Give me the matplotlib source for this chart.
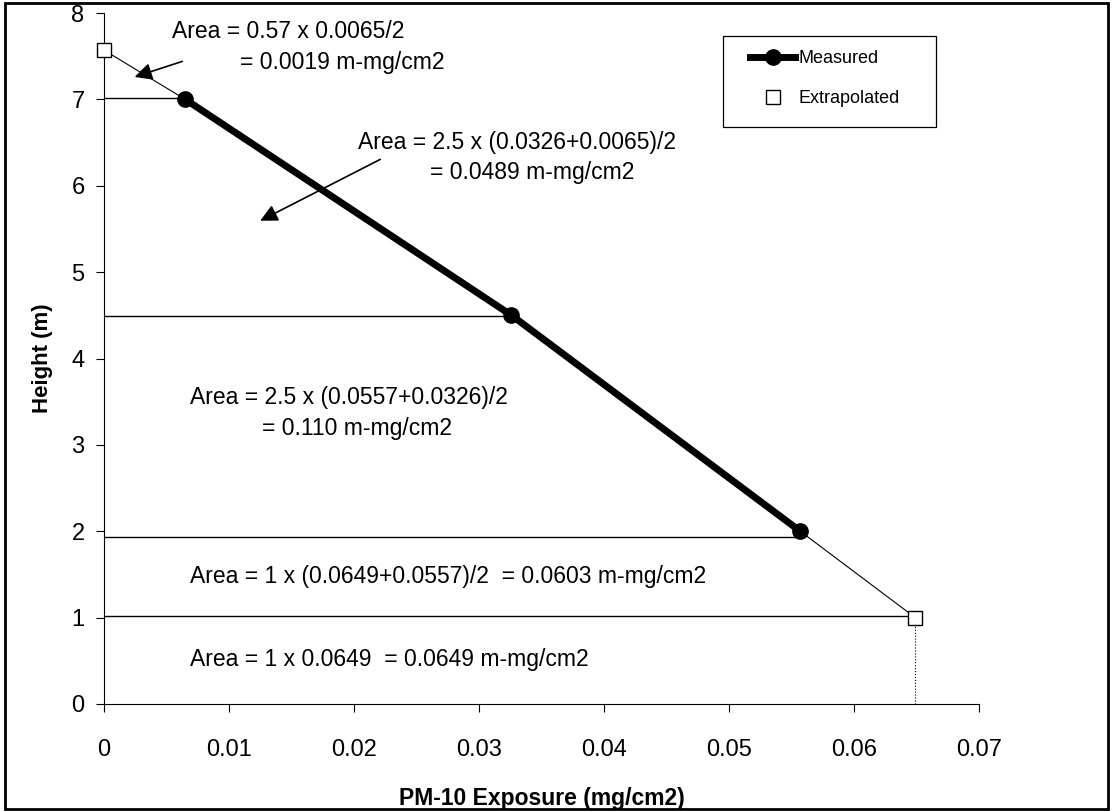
import matplotlib.pyplot as plt
from matplotlib.patches import Rectangle

plt.rcParams['font.family'] = ['Liberation Sans', 'DejaVu Sans']

# measured points
meas_x = [0.0065, 0.0326, 0.0557]
meas_y = [7.0, 4.5, 2.0]
# extrapolated points
extr_x = [0.0, 0.0649]
extr_y = [7.57, 1.0]
# horizontal slice boundaries (height, x-extent)
slice_y = [7.02, 4.49, 1.93, 1.02]
slice_x = [0.0065, 0.0326, 0.0557, 0.0649]

x_ticks = [0, 0.01, 0.02, 0.03, 0.04, 0.05, 0.06, 0.07]
x_labels = ["0", "0.01", "0.02", "0.03", "0.04", "0.05", "0.06", "0.07"]
y_ticks = [0, 1, 2, 3, 4, 5, 6, 7, 8]

W, H = 1118, 811
fig = plt.figure(figsize=(W / 100, H / 100), dpi=100)
ax = fig.add_axes([104 / W, 1 - 704 / H, 875 / W, 691 / H])

# slice lines
for yy, xx in zip(slice_y, slice_x):
    ax.plot([0, xx], [yy, yy], color='black', lw=1.0)
ax.plot([extr_x[1], extr_x[1]], [0, extr_y[1]], color='black', lw=0.8, ls=':')

# thin extrapolation segments
ax.plot([extr_x[0], meas_x[0]], [extr_y[0], meas_y[0]], color='black', lw=0.8)
ax.plot([meas_x[-1], extr_x[1]], [meas_y[-1], extr_y[1]], color='black', lw=0.8)

ax.plot(meas_x, meas_y, color='black', lw=5, marker='o', ms=11, label='Measured')
ax.plot(extr_x, extr_y, ls='none', marker='s', ms=9.5, mfc='white', mec='black',
        mew=1.0, label='Extrapolated', clip_on=False, zorder=5)

fs = 16.5
arrow = dict(arrowstyle='-|>', color='black', lw=1.2, mutation_scale=26)
ax.text(0.00544, 7.79, "Area = 0.57 x 0.0065/2", fontsize=fs, va='center')
ax.text(0.01088, 7.43, "= 0.0019 m-mg/cm2", fontsize=fs, va='center')
ax.annotate("", xy=(0.00224, 7.25), xytext=(0.00648, 7.45), arrowprops=arrow)

ax.text(0.0203, 6.50, "Area = 2.5 x (0.0326+0.0065)/2", fontsize=fs, va='center')
ax.text(0.0261, 6.15, "= 0.0489 m-mg/cm2", fontsize=fs, va='center')
ax.annotate("", xy=(0.0123, 5.58), xytext=(0.0223, 6.32), arrowprops=arrow)

ax.text(0.0069, 3.55, "Area = 2.5 x (0.0557+0.0326)/2", fontsize=fs, va='center')
ax.text(0.01264, 3.19, "= 0.110 m-mg/cm2", fontsize=fs, va='center')
ax.text(0.0069, 1.48, "Area = 1 x (0.0649+0.0557)/2  = 0.0603 m-mg/cm2", fontsize=fs, va='center')
ax.text(0.0069, 0.52, "Area = 1 x 0.0649  = 0.0649 m-mg/cm2", fontsize=fs, va='center')

ax.set_xlim(0, 0.07)
ax.set_ylim(0, 8)
ax.set_xticks(x_ticks)
ax.set_xticklabels(x_labels)
ax.set_yticks(y_ticks)
ax.spines['top'].set_visible(False)
ax.spines['right'].set_visible(False)
ax.tick_params(axis='x', direction='out', length=6, pad=19, labelsize=17)
ax.tick_params(axis='y', direction='out', length=6, pad=8, labelsize=17)
ax.set_xlabel("PM-10 Exposure (mg/cm2)", fontsize=16.5, fontweight='bold')
ax.set_ylabel("Height (m)", fontsize=16, fontweight='bold')
ax.xaxis.set_label_coords(0.5, -0.12)
ax.yaxis.set_label_coords(-0.058, 0.5)

# legend: frame drawn by hand, entries placed inside it
fig.patches.append(Rectangle((723 / W, 1 - 127 / H), 213 / W, 91 / H,
                             transform=fig.transFigure, fill=False,
                             edgecolor='black', lw=0.9))
ax.legend(loc='upper left', bbox_to_anchor=(750 / W, 1 - 50 / H),
          bbox_transform=fig.transFigure, fontsize=13, frameon=False,
          borderpad=0, borderaxespad=0, handlelength=2.5,
          labelspacing=1.3, handletextpad=0.2)

fig.patches.append(Rectangle((5 / W, 2 / H), 1103 / W, 806 / H, transform=fig.transFigure,
                             fill=False, edgecolor='black', lw=2))

fig.savefig("out.png", dpi=100)
